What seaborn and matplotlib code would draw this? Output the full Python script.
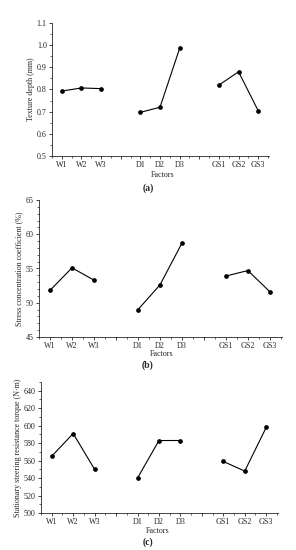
import numpy as np
import pandas as pd
import matplotlib
matplotlib.use("Agg")
import matplotlib.pyplot as plt
from matplotlib.ticker import MultipleLocator, FixedLocator
import seaborn as sns

sns.set_style("ticks")
plt.rcParams['font.family'] = ['Liberation Serif', 'DejaVu Serif']

factor_labels = ["W1", "W2", "W3", "", "D1", "D2", "D3", "", "GS1", "GS2", "GS3"]
groups = ["W", "W", "W", "D", "D", "D", "GS", "GS", "GS"]
level_labels = ["W1", "W2", "W3", "D1", "D2", "D3", "GS1", "GS2", "GS3"]

texture_depth = [0.793, 0.807, 0.804, 0.697, 0.720, 0.986, 0.820, 0.880, 0.704]
stress_coeff = [51.8, 55.1, 53.3, 49.0, 52.6, 58.7, 53.9, 54.7, 51.6]
steering_torque = [565, 591, 550, 540, 583, 583, 559, 548, 598]

ylabels = ["Texture depth (mm)", "Stress concentration coefficient (%)",
           "Stationary steering resistance torque (N·m)"]
captions = ["a", "b", "c"]

fig = plt.figure(figsize=(2.96, 5.5), dpi=100)
positions = [
    [52/296, 1-156/550, (269-52)/296, (156-23)/550],
    [39/296, 1-337/550, (282-39)/296, (337-200)/550],
    [41/296, 1-513/550, (278-41)/296, (513-382)/550],
]
ylims = [(0.5, 1.1), (45, 65), (500, 650)]
ymaj = [0.1, 5, 20]
ymin = [0.05, 1, 10]
series = [texture_depth, stress_coeff, steering_torque]
caption_y = [188, 365, 542]
factors_y = [175, 354, 531]
factors_x = [163, 162, 158]

xpos = [factor_labels.index(l) for l in level_labels]

fs = 5.8
for i in range(3):
    ax = fig.add_axes(positions[i])
    df = pd.DataFrame({"pos": xpos, "val": series[i], "group": groups})
    sns.lineplot(data=df, x="pos", y="val", units="group", estimator=None,
                 color="black", marker="o", markersize=3.4, linewidth=0.8,
                 markeredgewidth=0, ax=ax, legend=False)
    ax.set_xlim(-0.5, 10.55)
    ax.set_ylim(*ylims[i])
    ax.xaxis.set_major_locator(FixedLocator(range(11)))
    ax.set_xticklabels(factor_labels)
    ax.xaxis.set_minor_locator(MultipleLocator(0.5))
    ax.yaxis.set_major_locator(MultipleLocator(ymaj[i]))
    ax.yaxis.set_minor_locator(MultipleLocator(ymin[i]))
    if i == 0:
        ax.set_yticklabels([f"{v:.1f}" for v in ax.get_yticks()])
    ax.tick_params(which="major", length=2.2, width=0.6, labelsize=fs, pad=1.6, direction="out")
    ax.tick_params(which="minor", length=1.2, width=0.5, direction="out")
    for s in ["top", "right"]:
        ax.spines[s].set_visible(False)
    for s in ["left", "bottom"]:
        ax.spines[s].set_linewidth(0.6)
    ax.set_xlabel("")
    ax.set_ylabel(ylabels[i], fontsize=fs, labelpad=1.5)
    fig.text(factors_x[i] / 296, 1 - factors_y[i] / 550, "Factors",
             ha="center", va="center", fontsize=fs)
    fig.text(148 / 296, 1 - caption_y[i] / 550, f"({captions[i]})", ha="center", va="center",
             fontsize=7, fontweight="bold")

fig.savefig("out.png", dpi=100)
